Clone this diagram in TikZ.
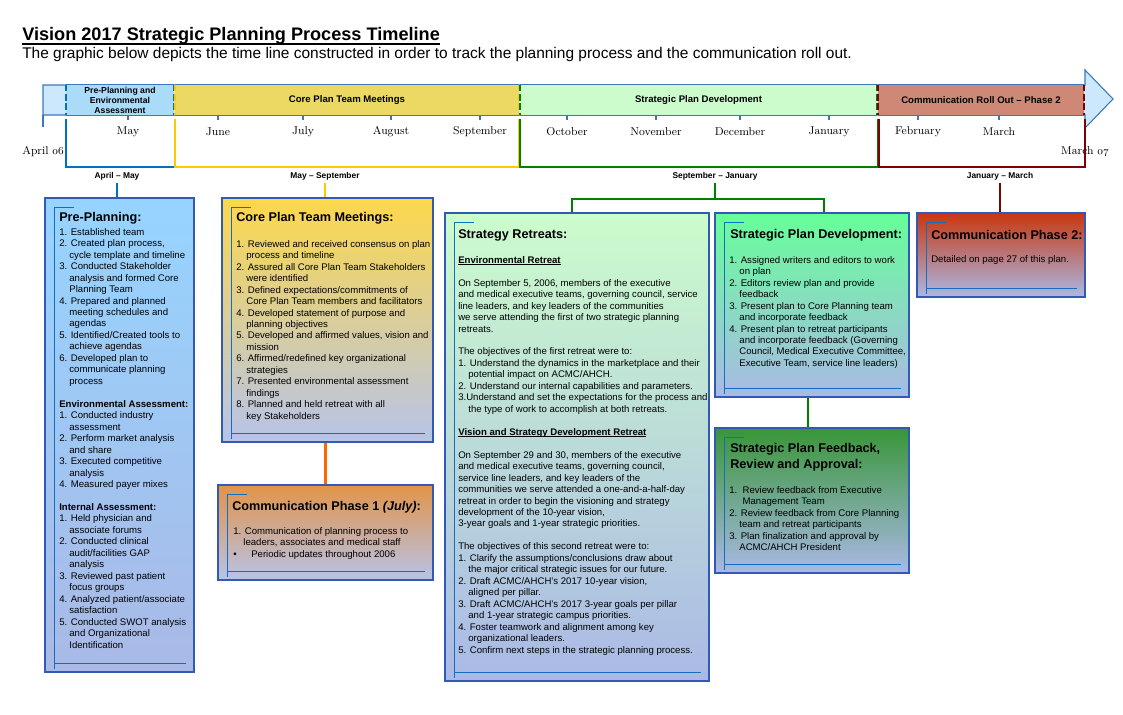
\documentclass[tikz,border=0pt]{standalone}
\usepackage{fontspec}
\setsansfont{Liberation Sans}
\usetikzlibrary{calc,fit}
\definecolor{barfill}{RGB}{204,232,252}
\definecolor{barline}{RGB}{60,120,190}
\definecolor{segA}{RGB}{170,220,250}
\definecolor{segB}{RGB}{236,217,100}
\definecolor{segC}{RGB}{204,252,204}
\definecolor{segD}{RGB}{208,136,118}
\definecolor{cblue}{RGB}{0,112,192}
\definecolor{cyellow}{RGB}{255,200,0}
\definecolor{cgreen}{RGB}{0,128,0}
\definecolor{cred}{RGB}{128,0,0}
\definecolor{corange}{RGB}{255,102,0}
\definecolor{boxline}{RGB}{50,90,180}
\definecolor{frameline}{RGB}{20,110,190}
\definecolor{lav}{RGB}{170,185,230}
\definecolor{topA}{RGB}{150,212,255}
\definecolor{topB}{RGB}{253,216,75}
\definecolor{topC}{RGB}{226,148,72}
\definecolor{topD}{RGB}{204,252,204}
\definecolor{topE}{RGB}{102,255,153}
\definecolor{topF}{RGB}{56,150,56}
\definecolor{topG}{RGB}{200,55,15}
\newcommand\ci{\hspace*{7.6pt}}
\newcommand\myul[1]{\setbox0\hbox{#1}\rlap{\rule[-1.3pt]{\wd0}{0.6pt}}\box0}
\newcommand\iframe[1]{%
  \draw[iframeline] ($(#1.north west)+(30,10)$) -- ($(#1.north west)+(10,10)$) -- ($(#1.south west)+(10,-4)$);
  \draw[iframeline] ($(#1.south west)+(10,-9)$) -- ($(#1.south east)+(-9,-9)$);}
\begin{document}
\begin{tikzpicture}[x=0.75pt,y=-0.75pt,
  bbox/.style={draw=boxline, line width=1pt, inner sep=0},
  iframeline/.style={draw=frameline, line width=0.8pt},
  btext/.style={anchor=north west, inner sep=0, align=left, font=\sffamily\fontsize{7.2}{8.6}\selectfont},
  btitle/.style={anchor=west, inner sep=0, align=left, font=\sffamily\bfseries\fontsize{9.5}{12}\selectfont},
  mlabel/.style={inner sep=0, font=\rmfamily\fontsize{8.5}{10}\selectfont},
  rng/.style={inner sep=0, font=\sffamily\bfseries\fontsize{6.3}{7.5}\selectfont},
  seglbl/.style={inner sep=0, align=center, font=\sffamily\bfseries\fontsize{7.2}{9}\selectfont},
  segside/.style={line width=1.6pt, dash pattern=on 5pt off 2pt},
  brk/.style={line width=2.2pt},
  conn/.style={line width=2.2pt}]
\useasboundingbox (0,0) rectangle (1123,714);
\fill[white] (0,0) rectangle (1123,714);

% heading
\node[anchor=base west, inner sep=0, font=\sffamily\bfseries\fontsize{13.6}{16}\selectfont] (title) at (22,40) {Vision 2017 Strategic Planning Process Timeline};
\draw[line width=1.2pt] ([yshift=-2.8pt]title.base west) -- ([yshift=-2.8pt]title.base east);
\node[anchor=base west, inner sep=0, font=\sffamily\fontsize{11.6}{14}\selectfont] (sub) at (22,58) {The graphic below depicts the time line constructed in order to track the planning process and the communication roll out.};

% timeline arrow
\path[fill=barfill, draw=barline, line width=0.8pt] (43,85) -- (1085,85) -- (1085,70) -- (1113,99) -- (1085,128) -- (1085,115) -- (43,115) -- cycle;
\draw[barline, line width=0.8pt] (43,115) -- (43,127);

\node[fit={(66,85)(174,115)}, inner sep=0, fill=segA] (s1) {};
\node[fit={(175,85)(519,115)}, inner sep=0, fill=segB] (s2) {};
\node[fit={(520,85)(877,115)}, inner sep=0, fill=segC] (s3) {};
\node[fit={(878,85)(1084,115)}, inner sep=0, fill=segD] (s4) {};
\foreach \s in {s1,s2,s3,s4}{
  \draw[barline, line width=0.8pt] (\s.north west) -- (\s.north east) (\s.south west) -- (\s.south east);
}
\draw[segside, cblue] (s1.north west) -- (s1.south west) (s1.north east) -- (s1.south east);
\draw[segside, cyellow] (s2.north west) -- (s2.south west) (s2.north east) -- (s2.south east);
\draw[segside, cgreen] (s3.north west) -- (s3.south west) (s3.north east) -- (s3.south east);
\draw[segside, cred] (s4.north west) -- (s4.south west) (s4.north east) -- (s4.south east);

\node[seglbl, font=\sffamily\bfseries\fontsize{6.5}{7.5}\selectfont] (t1) at (s1.center) {Pre-Planning and\\Environmental\\Assessment};
\node[seglbl] (t2) at (s2.center) {Core Plan Team Meetings};
\node[seglbl] (t3) at (s3.center) {Strategic Plan Development};
\node[seglbl] (t4) at (s4.center) {Communication Roll Out -- Phase 2};

% months
\foreach \mx/\mn [count=\i] in {128/May,218/June,303/July,391/August,480/September,567/October,656/November,740/December,829/January,918/February,999/March}{
  \draw[barline, line width=0.8pt] (\mx,115) -- (\mx,120);
  \node[mlabel] (m\i) at (\mx,132) {\mn};
}
\node[mlabel] (start) at (43,152) {April {\usefont{OML}{cmm}{m}{it}06}};
\node[mlabel] (end) at (1085,152) {March {\usefont{OML}{cmm}{m}{it}07}};

% brackets
\draw[brk, cblue] (66,119) |- (175,167);
\draw[brk, cyellow] (175,119) |- (519,167) -- (519,119);
\draw[brk, cgreen] (520,119) |- (878,167) -- (878,119);
\draw[brk, cred] (879,119) |- (1085,167) -- (1085,119);

\node[rng] (rAM) at (117,176) {April -- May};
\node[rng] (rMS) at (325,176) {May -- September};
\node[rng] (rSJ) at (715,176) {September -- January};
\node[rng] (rJM) at (1000,176) {January -- March};

% boxes
\node[bbox, fit={(45,198)(194,672)}, top color=topA, bottom color=lav] (b1) {};
\node[bbox, fit={(222,198)(433,442)}, top color=topB, bottom color=lav!85!white] (b2) {};
\node[bbox, fit={(218,485)(433,580)}, top color=topC, bottom color=lav!85!white] (b3) {};
\node[bbox, fit={(445,213)(709,681)}, top color=topD, bottom color=lav] (b4) {};
\node[bbox, fit={(715,213)(909,397)}, top color=topE, bottom color=lav] (b5) {};
\node[bbox, fit={(715,428)(909,573)}, top color=topF, bottom color=lav] (b6) {};
\node[bbox, fit={(917,213)(1085,297)}, top color=topG, bottom color=lav] (b7) {};
\foreach \b in {b1,b2,b3,b4,b5,b6,b7}{\iframe{\b}}

% connectors
\draw[conn, cblue] ([yshift=-2pt]rAM.south) -- (rAM.south |- b1.north);
\draw[conn, cyellow] ([yshift=-2pt]rMS.south) -- (rMS.south |- b2.north);
\coordinate (gj) at (715,199);
\coordinate (gl) at (572,199);
\coordinate (gr) at (824,199);
\draw[conn, cgreen] ([yshift=-2pt]rSJ.south) -- (gj);
\draw[conn, cgreen] (gl |- b4.north) -- (gl) -- (gr) -- (gr |- b5.north);
\draw[conn, cred] ([yshift=-2pt]rJM.south) -- (rJM.south |- b7.north);
\draw[conn, corange] (b3.north |- b2.south) -- (b3.north);
\draw[conn, cgreen] ($(b5.south)+(-4,0)$) -- ($(b6.north)+(-4,0)$);

% box 1
\node[btitle] (h1) at (59,218) {Pre-Planning:};
\node[btext] (x1) at (59,228) {1. Established team\\
2. Created plan process,\\
\ci cycle template and timeline\\
3. Conducted Stakeholder\\
\ci analysis and formed Core\\
\ci Planning Team\\
4. Prepared and planned\\
\ci meeting schedules and\\
\ci agendas\\
5. Identified/Created tools to\\
\ci achieve agendas\\
6. Developed plan to\\
\ci communicate planning\\
\ci process\\[8.6pt]
\textbf{Environmental Assessment:}\\
1. Conducted industry\\
\ci assessment\\
2. Perform market analysis\\
\ci and share\\
3. Executed competitive\\
\ci analysis\\
4. Measured payer mixes\\[8.6pt]
\textbf{Internal Assessment:}\\
1. Held physician and\\
\ci associate forums\\
2. Conducted clinical\\
\ci audit/facilities GAP\\
\ci analysis\\
3. Reviewed past patient\\
\ci focus groups\\
4. Analyzed patient/associate\\
\ci satisfaction\\
5. Conducted SWOT analysis\\
\ci and Organizational\\
\ci Identification};

% box 2
\node[btitle] (h2) at (236,218) {Core Plan Team Meetings:};
\node[btext] (x2) at (236,240) {1. Reviewed and received consensus on plan\\
\ci process and timeline\\
2. Assured all Core Plan Team Stakeholders\\
\ci were identified\\
3. Defined expectations/commitments of\\
\ci Core Plan Team members and facilitators\\
4. Developed statement of purpose and\\
\ci planning objectives\\
5. Developed and affirmed values, vision and\\
\ci mission\\
6. Affirmed/redefined key organizational\\
\ci strategies\\
7. Presented environmental assessment\\
\ci findings\\
8. Planned and held retreat with all\\
\ci key Stakeholders};

% box 3
\node[btitle] (h3) at (232,507) {Communication Phase 1 \textit{(July)}:};
\node[btext] (x3) at (233,527) {1. Communication of planning process to\\
\ci leaders, associates and medical staff\\
\textbullet\hspace{11pt}Periodic updates throughout 2006};

% box 4
\node[btitle] (h4) at (458,235) {Strategy Retreats:};
\node[btext] (x4) at (458,256) {\textbf{\myul{Environmental Retreat}}\\[8.6pt]
On September 5, 2006, members of the executive\\
and medical executive teams, governing council, service\\
line leaders, and key leaders of the communities\\
we serve attending the first of two strategic planning\\
retreats.\\[8.6pt]
The objectives of the first retreat were to:\\
1. Understand the dynamics in the marketplace and their\\
\ci potential impact on ACMC/AHCH.\\
2. Understand our internal capabilities and parameters.\\
3.Understand and set the expectations for the process and\\
\ci the type of work to accomplish at both retreats.\\[8.6pt]
\textbf{\myul{Vision and Strategy Development Retreat}}\\[8.6pt]
On September 29 and 30, members of the executive\\
and medical executive teams, governing council,\\
service line leaders, and key leaders of the\\
communities we serve attended a one-and-a-half-day\\
retreat in order to begin the visioning and strategy\\
development of the 10-year vision,\\
3-year goals and 1-year strategic priorities.\\[8.6pt]
The objectives of this second retreat were to:\\
1. Clarify the assumptions/conclusions draw about\\
\ci the major critical strategic issues for our future.\\
2. Draft ACMC/AHCH's 2017 10-year vision,\\
\ci aligned per pillar.\\
3. Draft ACMC/AHCH's 2017 3-year goals per pillar\\
\ci and 1-year strategic campus priorities.\\
4. Foster teamwork and alignment among key\\
\ci organizational leaders.\\
5. Confirm next steps in the strategic planning process.};

% box 5
\node[btitle] (h5) at (730,235) {Strategic Plan Development:};
\node[btext] (x5) at (729,256) {1. Assigned writers and editors to work\\
\ci on plan\\
2. Editors review plan and provide\\
\ci feedback\\
3. Present plan to Core Planning team\\
\ci and incorporate feedback\\
4. Present plan to retreat participants\\
\ci and incorporate feedback (Governing\\
\ci Council, Medical Executive Committee,\\
\ci Executive Team, service line leaders)};

% box 6
\node[btitle] (h6) at (730,457) {Strategic Plan Feedback,\\Review and Approval:};
\node[btext] (x6) at (729,486) {1.\ \ Review feedback from Executive\\
\hspace*{10pt}Management Team\\
2. Review feedback from Core Planning\\
\ci team and retreat participants\\
3. Plan finalization and approval by\\
\ci ACMC/AHCH President};

% box 7
\node[btitle] (h7) at (931,235) {Communication Phase 2:};
\node[btext] (x7) at (931,255) {Detailed on page 27 of this plan.};
\end{tikzpicture}
\end{document}
